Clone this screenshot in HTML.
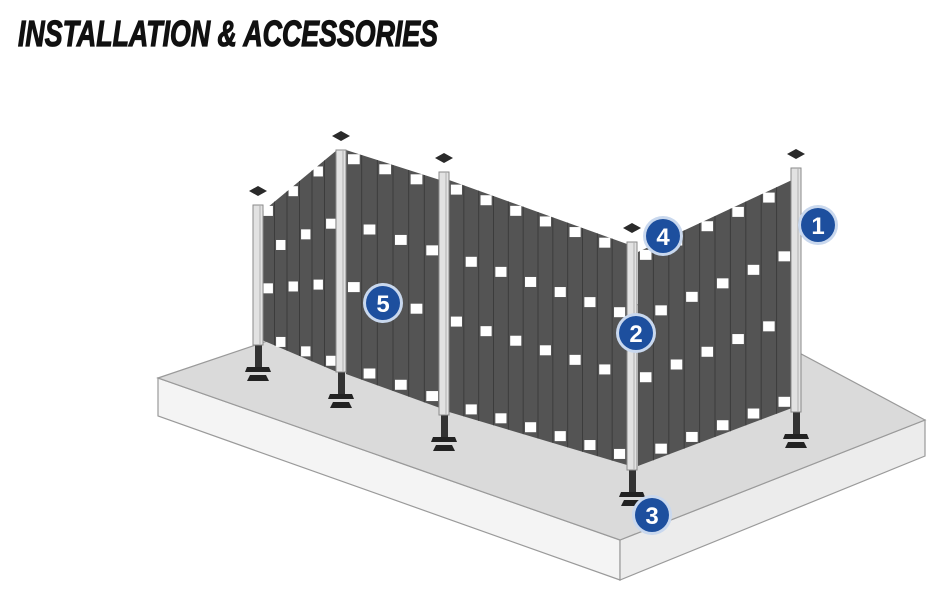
<!DOCTYPE html>
<html><head><meta charset="utf-8"><style>
html,body{margin:0;padding:0;background:#fff;}
svg{display:block}
</style></head><body>
<svg id="s" width="947" height="593" viewBox="0 0 947 593" xmlns="http://www.w3.org/2000/svg">
<rect width="947" height="593" fill="#fff"/>
<text x="18" y="46" font-family="Liberation Sans, sans-serif" font-weight="bold" font-style="italic" font-size="36" fill="#111" stroke="#111" stroke-width="1.2" textLength="420" lengthAdjust="spacingAndGlyphs">INSTALLATION &amp; ACCESSORIES</text>
<!-- slab -->
<polygon points="158,378 158,416 620,580 620,540" fill="#f4f4f4" stroke="#9a9a9a" stroke-width="1.2"/>
<polygon points="620,540 620,580 925,456 925,420" fill="#ececec" stroke="#9a9a9a" stroke-width="1.2"/>
<polygon points="158,378 300,330 700,300 925,420 620,540" fill="#dadada" stroke="#9a9a9a" stroke-width="1.2"/>
<g id="fence"></g>
<g id="badges" font-family="Liberation Sans, sans-serif" font-weight="bold" font-size="24" fill="#fff" text-anchor="middle">
</g>
</svg>
<script>
(function(){
var NS="http://www.w3.org/2000/svg",f=document.getElementById("fence");
function el(t,a){var e=document.createElementNS(NS,t);for(var k in a)e.setAttribute(k,a[k]);f.appendChild(e);return e;}
function L(p,q,t){return [p[0]+(q[0]-p[0])*t,p[1]+(q[1]-p[1])*t];}
function pt(P,u,v){var a=L(P[0],P[1],u),b=L(P[3],P[2],u);return L(a,b,v);}
function foot(x,y){
 el("rect",{x:x-3,y:y,width:7,height:22,fill:"#333"});
 el("polygon",{points:(x-11)+","+(y+22)+" "+(x+11)+","+(y+22)+" "+(x+13)+","+(y+27)+" "+(x-13)+","+(y+27),fill:"#222"});
 el("polygon",{points:(x-8)+","+(y+30)+" "+(x+8)+","+(y+30)+" "+(x+11)+","+(y+36)+" "+(x-11)+","+(y+36),fill:"#222"});
}
var posts=[[258,205,345],[341,150,372],[444,172,415],[632,242,470],[796,168,412]];
posts.forEach(function(p){foot(p[0],p[2]);});
var panels=[
 [[262,212],[337,150],[337,372],[262,340],6],
 [[346,150],[440,180],[440,408],[346,374],6],
 [[449,180],[627,244],[627,465],[449,412],12],
 [[638,252],[792,180],[792,408],[638,466],10]
];
panels.forEach(function(P){
 var pts=P.slice(0,4).map(function(q){return q.join(",");}).join(" ");
 el("polygon",{points:pts,fill:"#545454"});
 var n=P[4];
 for(var i=1;i<n;i++){var a=pt(P,i/n,0),b=pt(P,i/n,1);el("line",{x1:a[0],y1:a[1],x2:b[0],y2:b[1],stroke:"#3c3c3c","stroke-width":1});}
 var rows=[0.03,0.32,0.6,0.96];
 rows.forEach(function(v,r){
  for(var i=0;i<n;i++){
   if((i+r)%2==1)continue;
   var u=(i+0.5)/n,c=pt(P,u,v);
   var w=(P[1][0]-P[0][0])/n*0.75;
   el("rect",{x:c[0]-w/2,y:c[1]-5,width:w,height:10,fill:"#fff"});
  }
 });
});
posts.forEach(function(p){
 el("rect",{x:p[0]-5,y:p[1],width:10,height:p[2]-p[1],fill:"#e2e2e2",stroke:"#8a8a8a","stroke-width":1});
 el("line",{x1:p[0]+2,y1:p[1],x2:p[0]+2,y2:p[2],stroke:"#b0b0b0","stroke-width":1});
 el("polygon",{points:(p[0]-9)+","+(p[1]-14)+" "+p[0]+","+(p[1]-19)+" "+(p[0]+9)+","+(p[1]-14)+" "+p[0]+","+(p[1]-9),fill:"#2a2a2a"});
});
var bg=document.getElementById("badges");
[["1",818,225],["2",636,333],["3",652,515],["4",663,236],["5",383,303]].forEach(function(b){
 var c=document.createElementNS(NS,"circle");c.setAttribute("cx",b[1]);c.setAttribute("cy",b[2]);c.setAttribute("r",20);c.setAttribute("fill","#c9d8ee");bg.appendChild(c);
 c=document.createElementNS(NS,"circle");c.setAttribute("cx",b[1]);c.setAttribute("cy",b[2]);c.setAttribute("r",17);c.setAttribute("fill","#1d4f9e");bg.appendChild(c);
 var t=document.createElementNS(NS,"text");t.setAttribute("x",b[1]);t.setAttribute("y",b[2]+9);t.textContent=b[0];bg.appendChild(t);
});
})();
</script>
</body></html>
